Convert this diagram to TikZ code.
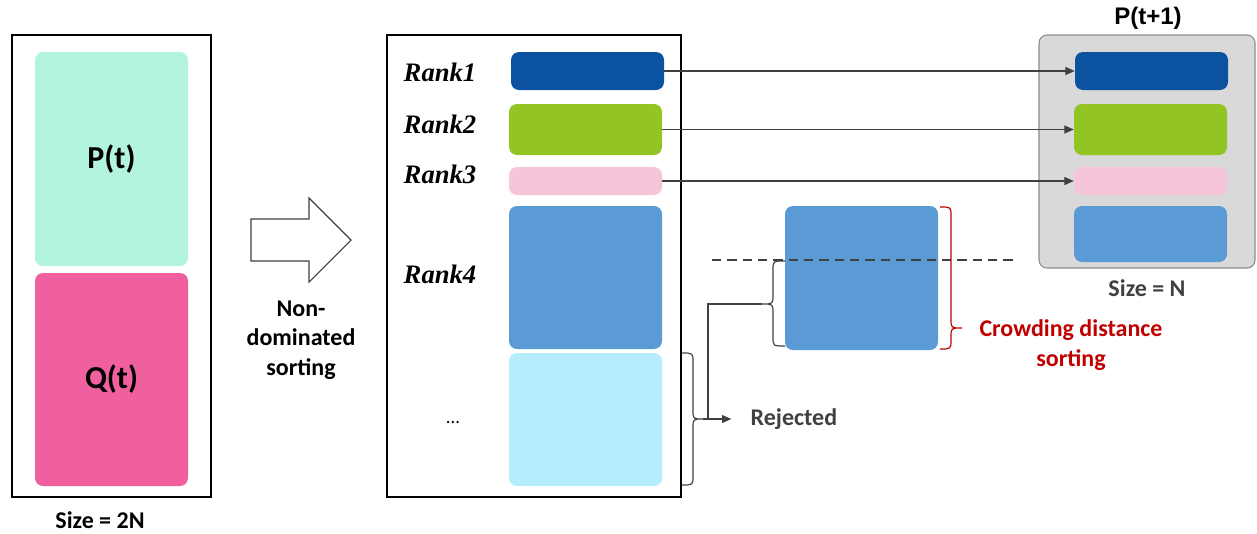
\documentclass[tikz,border=0pt]{standalone}
\usepackage{fontspec}
\setmainfont{Carlito}
\newfontfamily\headfont{Liberation Sans}
\newfontfamily\rankfont{Liberation Serif}
\usetikzlibrary{arrows.meta,fit}

\definecolor{mint}{HTML}{B3F4DC}
\definecolor{hotpink}{HTML}{F0609E}
\definecolor{navy}{HTML}{0B52A0}
\definecolor{leaf}{HTML}{92C423}
\definecolor{blush}{HTML}{F5C5DA}
\definecolor{sky}{HTML}{5B9BD5}
\definecolor{ice}{HTML}{B5EDFC}
\definecolor{panel}{HTML}{D9D9D9}
\definecolor{panelline}{HTML}{8C8C8C}
\definecolor{ink}{HTML}{404040}
\definecolor{crimson}{HTML}{C00000}

\tikzset{
  frame/.style={draw=black, line width=0.8pt, inner sep=0pt},
  bar/.style={rounded corners=6pt, inner sep=0pt, draw=none},
  link/.style={draw=ink, line width=0.8pt, -{Triangle[length=7pt,width=6pt]}},
  caption/.style={font=\bfseries\fontsize{18}{22}\selectfont, align=center},
  ranklabel/.style={anchor=west, font=\rankfont\bfseries\itshape\fontsize{20}{22}\selectfont},
  poplabel/.style={font=\bfseries\fontsize{24}{26}\selectfont},
  brace/.style={line width=0.9pt},
}

% right-pointing (xc > xb) or left-pointing (xc < xb) curly brace
\newcommand{\curly}[8]{% #1 style, #2 xa, #3 xb, #4 xc, #5 ytop, #6 ytip, #7 ybottom, #8 radius
  \draw[#1] (#2,#5) .. controls (#3,#5) .. (#3,#5+#8) -- (#3,#6-#8)
    .. controls (#3,#6) .. (#4,#6) .. controls (#3,#6) .. (#3,#6+#8)
    -- (#3,#7-#8) .. controls (#3,#7) .. (#2,#7);}

\begin{document}
\begin{tikzpicture}[x=0.75pt,y=-0.75pt]
\useasboundingbox (0,0) rectangle (1257,533);

% population P(t) + Q(t)
\node[frame, fit={(12,35) (211,497)}] (pool) {};
\node[bar, fill=mint, fit={(35,52) (188,266)}] (pt) {};
\node[bar, fill=hotpink, fit={(35,273) (188,486)}] (qt) {};
\node[poplabel] (ptlab) at (pt.center) {P(t)};
\node[poplabel] (qtlab) at (qt.center) {Q(t)};
\node[caption] (size2n) at (100,520) {Size = 2N};

% sorting arrow
\draw[draw=black!75, line width=0.8pt, fill=white]
  (251,219) -- (309,219) -- (309,198) -- (351,240) -- (309,282) -- (309,261) -- (251,261) -- cycle;
\node[caption] (nds) at (301,340) {Non-\\dominated\\sorting};

% fronts after non-dominated sorting
\node[frame, fit={(387,35) (681,497)}] (fronts) {};
\node[bar, fill=navy, fit={(511,52) (664,90)}] (r1) {};
\node[bar, fill=leaf, fit={(509,104) (662,155)}] (r2) {};
\node[bar, fill=blush, fit={(509,167) (662,195)}] (r3) {};
\node[bar, fill=sky, fit={(509,206) (662,349)}] (r4) {};
\node[bar, fill=ice, fit={(509,353) (662,486)}] (r5) {};
\node[ranklabel] (l1) at (399,72) {Rank1};
\node[ranklabel] (l2) at (399,124) {Rank2};
\node[ranklabel] (l3) at (399,174) {Rank3};
\node[ranklabel] (l4) at (399,274) {Rank4};
\node[font=\fontsize{14}{16}\selectfont] (dots) at (453,423) {...};

% next population P(t+1)
\node[rounded corners=6pt, draw=panelline, fill=panel, line width=0.8pt, inner sep=0pt,
      fit={(1039,35) (1255,268)}] (next) {};
\node[bar, fill=navy, fit={(1075,52) (1228,90)}] (p1) {};
\node[bar, fill=leaf, fit={(1074,104) (1227,155)}] (p2) {};
\node[bar, fill=blush, fit={(1074,167) (1227,195)}] (p3) {};
\node[bar, fill=sky, fit={(1074,206) (1227,262)}] (p4) {};
\node[font=\headfont\bfseries\fontsize{18}{20}\selectfont] (nexttitle) at (1148,18) {P(t+1)};
\node[caption, text=ink] (sizen) at (1147,288) {Size = N};

% fronts copied into P(t+1)
\draw[link] (r1.east) -- (p1.west);
\draw[link] (r2.east) -- (p2.west);
\draw[link] (r3.east) -- (p3.west);

% last front, split by crowding distance
\node[bar, fill=sky, fit={(785,206) (938,350)}] (crowd) {};
\coordinate (cutL) at (712,260);
\coordinate (cutR) at (1016,260);
\draw[draw=ink, line width=0.8pt, dash pattern=on 7pt off 4.5pt] (cutL) -- (cutR);

\curly{brace, draw=crimson}{940}{951}{962}{207}{328}{349}{9}
\node[caption, text=crimson] (cds) at (1071,345) {Crowding distance\\sorting};

\curly{brace, draw=ink}{785}{773}{762}{261}{304}{346}{9}
\curly{brace, draw=ink}{682}{693}{703}{353}{419}{485}{9}

\coordinate (tipA) at (762,304);
\coordinate (tipB) at (703,419);
\coordinate (elbow) at (708,304);
\node[caption, text=ink, anchor=west] (rej) at (746,419) {Rejected};
\draw[draw=ink, line width=0.8pt] (tipA) -- (elbow) |- (tipB);
\draw[link, shorten >=11pt] (tipB) -- (rej.west);
\end{tikzpicture}
\end{document}
